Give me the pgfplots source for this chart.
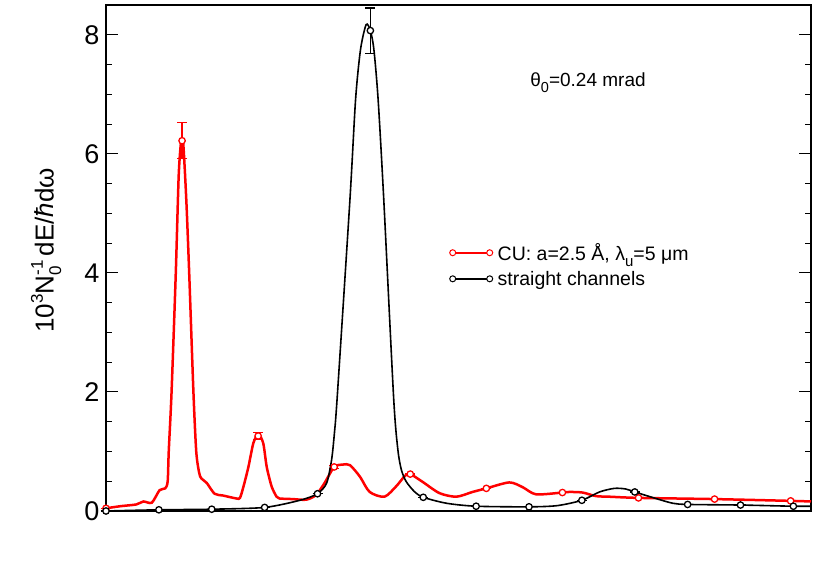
\documentclass[border=0pt]{standalone}
\usepackage{fontspec}
\setmainfont{Liberation Sans}
\usepackage{pgfplots}
\pgfplotsset{compat=1.18}
\newcommand{\sps}[1]{\raisebox{0.42em}{\fontsize{17}{19}\selectfont #1}}
\newcommand{\sbs}[1]{\raisebox{-0.28em}{\fontsize{17}{19}\selectfont #1}}
\begin{document}
\begin{tikzpicture}[x=1pt,y=1pt]
\useasboundingbox (0,0) rectangle (830,588);
\begin{axis}[
  at={(106pt,77pt)}, anchor=south west,
  scale only axis, width=705pt, height=506pt,
  xmin=0, xmax=10, ymin=0, ymax=8.5,
  clip=false,
  axis line style={line width=1.2pt},
  xtick=\empty, minor xtick={0,1,...,10},
  ytick={0,2,4,6,8}, minor ytick={0.5,1,...,8.5},
  tick align=inside,
  major tick length=12pt, minor tick length=6pt,
  every tick/.style={black, line width=1pt},
  tick label style={font=\fontsize{27}{32}\selectfont},
  /pgf/number format/assume math mode=true,
  yticklabel style={xshift=-3pt},
  legend style={at={(rel axis cs:0.483,0.537)}, anchor=north west, draw=none, fill=none,
    font=\fontsize{19.5}{23}\selectfont, row sep=5pt, cells={anchor=west},
    /tikz/every even column/.append style={column sep=0pt}},
  legend image code/.code={\draw[mark repeat=1,mark phase=1,#1] plot coordinates {(0pt,0pt) (37pt,0pt)};},
]
% red curve
\addplot[red, line width=2.5pt, smooth, tension=0.45, forget plot] coordinates {
(0,0.045) (0.2,0.08) (0.43,0.11) (0.53,0.16) (0.65,0.14) (0.76,0.35) (0.84,0.38) (0.875,0.5)
(0.89,1.0) (0.93,2.0) (0.99,4.0) (1.03,5.6) (1.06,6.15) (1.08,6.24) (1.10,6.1) (1.14,5.2)
(1.18,4.0) (1.24,2.0) (1.28,1.0) (1.32,0.65) (1.35,0.55) (1.43,0.47) (1.54,0.29) (1.66,0.26)
(1.85,0.21) (1.90,0.22) (1.95,0.41) (2.02,0.74) (2.09,1.14) (2.16,1.29) (2.23,1.14) (2.28,0.74)
(2.35,0.41) (2.42,0.24) (2.46,0.21) (2.65,0.20) (2.84,0.19) (2.98,0.27) (3.10,0.47) (3.237,0.74)
(3.36,0.78) (3.46,0.77) (3.60,0.58) (3.74,0.32) (3.95,0.24) (4.12,0.42) (4.24,0.59) (4.316,0.62)
(4.49,0.49) (4.73,0.30) (4.97,0.24) (5.20,0.32) (5.395,0.38) (5.72,0.48) (5.91,0.40) (6.10,0.28)
(6.474,0.31) (6.57,0.32) (6.76,0.31) (6.95,0.25) (7.14,0.24) (7.553,0.22) (8.632,0.20) (9.711,0.17)
(10.0,0.16)
};
\addplot[red, only marks, mark=*, mark size=3.2pt, mark options={fill=white, line width=1.3pt}, forget plot,
  error bars/.cd, y dir=both, y explicit,
  error bar style={red, line width=1.2pt},
  error mark options={rotate=90, mark size=5pt, line width=1.2pt, red}]
  table[x=x, y=y, y error plus=ep, y error minus=em] {
x y ep em
0 0.045 0 0
1.079 6.22 0.31 0.30
2.158 1.26 0.06 0.06
3.237 0.74 0.03 0.03
4.316 0.62 0 0
5.395 0.38 0 0
6.474 0.31 0 0
7.553 0.22 0 0
8.632 0.20 0 0
9.711 0.17 0 0
};
% black curve
\addplot[black, line width=1.6pt, smooth, tension=0.45, forget plot] coordinates {
(0,0.0) (0.75,0.02) (1.5,0.03) (2.25,0.06) (2.75,0.18) (3.0,0.29) (3.13,0.47) (3.20,0.86)
(3.24,1.31) (3.28,1.92) (3.46,5.23) (3.54,6.91) (3.61,7.75) (3.69,8.17) (3.75,8.07) (3.80,7.75)
(3.86,6.91) (3.94,5.23) (4.08,1.9) (4.14,1.03) (4.19,0.69) (4.26,0.49) (4.38,0.32) (4.5,0.23)
(4.83,0.13) (5.25,0.08) (6.0,0.07) (6.4,0.09) (6.75,0.18) (7.0,0.32) (7.21,0.38) (7.37,0.37)
(7.5,0.32) (7.8,0.21) (8.04,0.13) (8.25,0.11) (9.0,0.10) (9.75,0.08) (10,0.08)
};
\addplot[black, only marks, mark=*, mark size=3.2pt, mark options={fill=white, line width=1.3pt}, forget plot,
  error bars/.cd, y dir=both, y explicit,
  error bar style={black, line width=1.2pt},
  error mark options={rotate=90, mark size=5pt, line width=1.2pt, black}]
  table[x=x, y=y, y error plus=ep, y error minus=em] {
x y ep em
0 0.0 0 0
0.75 0.02 0 0
1.5 0.03 0 0
2.25 0.06 0 0
3.0 0.29 0 0
3.75 8.07 0.38 0.38
4.5 0.23 0 0
5.25 0.08 0 0
6.0 0.07 0 0
6.75 0.18 0 0
7.5 0.32 0 0
8.25 0.11 0 0
9.0 0.10 0 0
9.75 0.08 0 0
};
\addlegendimage{red, line width=2pt, mark=*, mark size=3pt, mark options={fill=white, line width=1pt}}
\addlegendentry{\hspace{3pt}CU: a=2.5 Å, λ\raisebox{-0.3em}{\fontsize{15}{17}\selectfont u}=5 μm}
\addlegendimage{black, line width=1.5pt, mark=*, mark size=3pt, mark options={fill=white, line width=1pt}}
\addlegendentry{\hspace{3pt}straight channels}
\node[anchor=west, font=\fontsize{19}{22}\selectfont] at (axis cs:5.97,7.19) {θ\raisebox{-0.3em}{\fontsize{14.5}{17}\selectfont 0}=0.24 mrad};
\node[rotate=90, anchor=center, font=\fontsize{26}{30}\selectfont] at (axis cs:-0.85,4.38)
  {10\sps{3}N\rlap{\sbs{0}}\sps{-1}\,dE/\textit{ħ}dω};
\end{axis}
\end{tikzpicture}
\end{document}
